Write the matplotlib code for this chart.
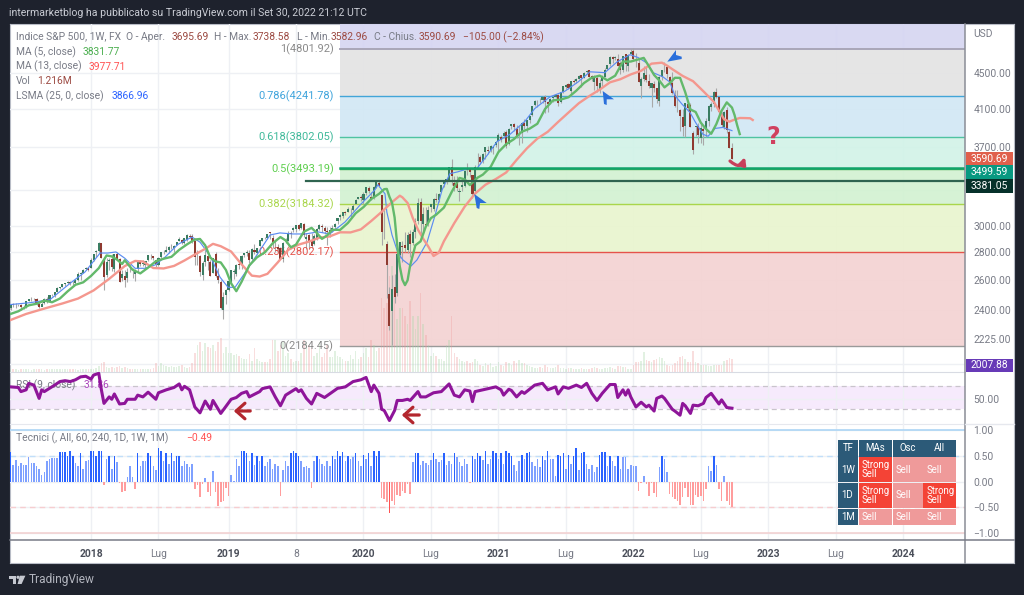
import numpy as np
import matplotlib
matplotlib.use("Agg")
import matplotlib.pyplot as plt
from matplotlib.patches import Rectangle, Polygon, FancyArrowPatch, Circle

FONT = "Roboto"
plt.rcParams["font.family"] = [FONT, "DejaVu Sans"]

# ---- weekly bars, week 0 = first week of 2018 ----
first_week = -31
opens = [2415,2439,2432,2433,2438,2423,2425,2459,2472,2473,2477,2441,2425,2447,2476,2462,2500,2503,2519,2549,2553,2575,2582,2588,2582,2579,2603,2642,2652,2676,2683,
2683,2745,2799,2809,2867,2741,2637,2735,2750,2682,2791,2751,2619,2633,2614,2675,2675,2643,2681,2727,2717,2705,2743,2781,2774,2742,2705,2765,2799,2804,2819,2829,2835,2858,2884,2897,2872,2897,2921,2926,2885,2764,2773,2640,2726,2773,2730,2650,2790,2630,2590,2400,
2498,2535,2585,2657,2644,2713,2712,2780,2798,2798,2750,2820,2796,2848,2888,2910,2906,2952,2908,2860,2841,2830,2751,2885,2889,2951,2971,2979,3014,2986,3016,2898,2930,2891,2866,2909,2981,3002,2983,2967,2945,2965,2996,3039,3078,3081,3117,3117,3144,3135,3183,3226,
3240,3218,3281,3320,3247,3235,3318,3369,3257,2974,2864,2508,2394,2555,2514,2782,2846,2854,2815,2939,2869,2953,3039,3199,3018,3018,3018,3155,3141,3224,3219,3288,3357,3372,3386,3509,3369,3363,3285,3326,3338,3500,3493,3441,3296,3583,3610,3566,3654,3675,3675,3694,3723,
3764,3803,3815,3857,3731,3911,3939,3885,3842,3844,3942,3917,3975,4030,4138,4180,4186,4191,4229,4169,4168,4217,4232,4249,4174,4285,4345,4373,4297,4410,4407,4439,4476,4450,4514,4536,4474,4402,4448,4316,4410,4464,4554,4610,4697,4689,4678,4633,4538,4733,4588,4733,
4778,4663,4632,4356,4431,4483,4412,4333,4374,4327,4188,4456,4537,4575,4462,4385,4255,4130,4081,4013,3920,4153,4134,3838,3909,3920,3792,3880,3883,3972,4113,4155,4280,4226,4034,3909,4083,3849,3695.69]
highs = [2440,2446,2448,2442,2443,2433,2463,2477,2484,2480,2480,2454,2454,2480,2488,2500,2508,2520,2552,2555,2576,2583,2597,2592,2597,2606,2657,2655,2680,2695,2692,
2760,2790,2815,2878,2871,2763,2755,2755,2790,2790,2802,2762,2675,2672,2685,2717,2683,2682,2733,2742,2742,2736,2779,2790,2775,2746,2764,2804,2816,2848,2848,2863,2855,2877,2917,2900,2908,2941,2939,2940,2894,2816,2780,2736,2815,2776,2747,2760,2800,2685,2601,2520,
2539,2597,2675,2681,2716,2737,2778,2794,2818,2814,2830,2860,2836,2893,2910,2917,2943,2955,2930,2892,2864,2841,2876,2910,2964,2964,2995,3014,3018,3027,3028,2945,2943,2947,2943,2985,3021,3022,2999,2993,2993,3008,3027,3066,3097,3120,3127,3154,3150,3183,3226,3247,
3258,3282,3329,3338,3285,3337,3385,3393,3260,3136,2882,2553,2638,2641,2818,2880,2888,2954,2955,2968,2978,3068,3233,3233,3156,3155,3166,3186,3238,3281,3280,3352,3387,3399,3509,3588,3425,3429,3320,3392,3486,3550,3501,3441,3529,3646,3628,3646,3699,3712,3727,3712,3760,
3840,3826,3861,3870,3894,3938,3950,3929,3914,3960,3983,3978,4020,4130,4192,4195,4218,4238,4247,4188,4213,4241,4255,4262,4287,4355,4372,4393,4416,4429,4442,4480,4479,4514,4545,4541,4486,4478,4465,4429,4476,4560,4608,4718,4718,4717,4743,4652,4713,4743,4740,4808,
4819,4749,4690,4454,4595,4590,4489,4385,4416,4329,4465,4546,4637,4593,4471,4513,4308,4308,4090,4097,4161,4177,4165,3866,3915,3946,3950,3902,3999,4140,4167,4301,4325,4227,4062,4076,4120,3870,3738.58]
lows = [2405,2420,2416,2426,2406,2407,2418,2458,2459,2468,2437,2417,2428,2444,2446,2461,2491,2488,2518,2541,2551,2564,2575,2566,2567,2576,2598,2605,2652,2673,2667,
2683,2737,2768,2805,2759,2533,2622,2675,2667,2661,2742,2586,2594,2553,2590,2660,2613,2594,2655,2703,2704,2676,2736,2749,2743,2691,2699,2757,2789,2800,2795,2826,2802,2853,2883,2864,2864,2889,2905,2874,2710,2710,2628,2604,2701,2670,2631,2650,2621,2583,2408,2346,
2443,2525,2580,2612,2631,2682,2678,2765,2772,2723,2746,2785,2785,2848,2882,2898,2900,2900,2836,2801,2805,2750,2728,2873,2887,2912,2953,2952,2970,2975,2914,2822,2825,2835,2856,2891,2969,2957,2939,2855,2918,2952,2975,3015,3050,3065,3090,3114,3070,3124,3183,3226,
3212,3181,3263,3281,3214,3224,3318,3328,2855,2901,2478,2280,2191,2447,2494,2761,2727,2799,2798,2767,2854,2910,3022,2936,2965,2999,3001,3115,3127,3200,3201,3284,3328,3359,3380,3349,3293,3292,3209,3297,3330,3440,3415,3233,3279,3512,3543,3550,3590,3633,3650,3636,3700,
3663,3750,3797,3694,3725,3884,3866,3789,3723,3745,3886,3853,3944,4020,4123,4118,4164,4160,4056,4061,4150,4167,4220,4131,4165,4271,4320,4321,4234,4383,4384,4430,4347,4448,4511,4458,4406,4305,4288,4278,4354,4459,4537,4595,4630,4670,4586,4495,4517,4531,4532,4733,
4662,4582,4395,4222,4414,4401,4327,4115,4279,4157,4130,4424,4517,4450,4381,4262,4121,4062,3859,3810,3807,4073,3900,3637,3810,3738,3742,3721,3802,3910,4079,4116,4218,4030,3907,3884,3838,3693,3582.96]
closes = [2439,2432,2433,2438,2423,2425,2459,2472,2472,2477,2441,2425,2444,2476,2461,2500,2502,2519,2549,2553,2575,2581,2588,2582,2578,2602,2642,2652,2675,2683,2674,
2743,2786,2810,2873,2762,2620,2732,2747,2691,2786,2752,2588,2641,2604,2656,2670,2670,2663,2728,2713,2721,2735,2779,2780,2755,2718,2760,2801,2802,2819,2840,2833,2850,2875,2902,2872,2905,2930,2914,2885,2767,2768,2658,2723,2781,2736,2632,2760,2633,2600,2416,2485,
2531,2596,2670,2664,2707,2707,2776,2793,2803,2743,2822,2800,2834,2893,2907,2905,2940,2945,2881,2860,2826,2752,2873,2887,2950,2942,2990,3014,2977,3025,2932,2918,2889,2847,2926,2978,3007,2992,2961,2952,2970,2986,3022,3066,3093,3120,3110,3141,3145,3168,3221,3240,
3234,3265,3329,3295,3225,3327,3380,3338,2954,2972,2711,2305,2541,2489,2790,2875,2837,2831,2930,2864,2955,3044,3194,3041,3098,3009,3130,3185,3225,3216,3271,3351,3373,3397,3508,3427,3341,3319,3298,3348,3477,3484,3465,3270,3510,3585,3558,3638,3699,3663,3709,3703,3756,
3824,3768,3841,3714,3886,3934,3906,3811,3842,3943,3913,3974,4019,4128,4185,4180,4181,4232,4173,4155,4204,4229,4247,4166,4280,4352,4369,4327,4411,4395,4436,4468,4441,4509,4535,4458,4432,4455,4357,4391,4471,4544,4605,4697,4682,4697,4594,4538,4712,4620,4725,4766,
4677,4662,4397,4431,4500,4418,4349,4385,4329,4204,4463,4543,4546,4488,4392,4272,4132,4123,4024,3901,4158,4109,3901,3675,3912,3825,3899,3863,3962,4130,4145,4280,4228,4058,3924,4067,3873,3693,3590.69]
volumes_tenth_m = [3,3,3,2,3,3,3,3,2,3,3,3,3,2,3,3,3,3,3,3,3,3,3,3,3,3,2,3,3,3,3,
3,3,4,6,8,9,5,4,5,4,5,6,4,5,4,3,3,3,3,3,3,3,3,3,4,8,6,8,7,6,5,6,5,5,6,7,5,4,5,8,18,25,28,20,27,23,22,25,20,28,32,18,
23,18,18,16,17,15,13,12,12,17,10,22,12,10,9,9,9,12,30,30,20,25,28,15,18,12,9,10,10,18,30,28,25,22,15,18,28,14,18,25,14,14,20,15,14,12,10,10,16,12,20,12,
14,18,22,14,30,25,20,22,69,60,65,90,99,75,50,60,60,52,45,66,52,40,52,74,45,35,25,15,18,15,12,12,10,25,30,52,18,14,12,10,9,10,8,9,12,10,7,6,8,7,8,5,6,
9,7,6,9,8,7,10,8,11,8,8,7,6,5,4,4,5,4,7,5,4,4,5,7,4,4,3,4,4,3,3,3,4,3,3,3,4,5,4,3,3,4,4,5,4,3,6,6,5,5,3,3,
7,9,9,10,19,11,10,9,11,12,14,13,10,7,6,7,8,10,14,15,12,9,9,20,9,8,7,7,7,6,6,7,7,7,7,10,11,13,12.16]
ratings = [.58,.33,.42,.30,.36,.32,.33,.49,.36,.37,.30,.25,.14,.18,.40,.45,.47,.47,.47,.58,.58,.58,.50,.60,.50,.36,.30,.55,.25,.40,.42,
.60,.60,.50,.60,.60,-.07,.45,.50,.25,.50,.38,-.02,-.20,-.18,.10,.30,.10,-.14,.55,.30,.40,.40,.55,.50,.30,.22,.65,.60,.40,.55,.35,.55,.40,.50,.50,.30,.40,.35,.28,.34,-.15,-.07,-.30,-.05,.07,-.20,-.28,.20,-.20,-.48,-.40,-.38,-.13,-.28,.14,.02,
.45,.30,.60,.60,.55,.40,.55,.32,.50,.40,.50,.30,.38,.45,.25,.35,.30,-.27,.22,.40,.30,.55,.60,.55,.50,.40,.28,.30,.27,-.12,.40,.50,.45,.35,.30,.40,.30,.50,.45,.60,.50,.58,.40,.50,.45,.48,.55,.40,.30,.52,.45,.55,.30,.60,.50,.60,
-.32,-.33,-.40,-.61,-.38,-.46,-.26,-.28,-.18,-.22,-.05,-.23,
.38,.55,.55,.32,.40,.36,.32,.42,.55,.45,.38,.42,.55,.32,.40,.34,.55,.48,.38,.30,.45,.35,-.02,.50,.45,.55,.50,.42,.60,.35,.45,.60,.55,.45,.55,.35,.60,.55,.50,
.32,.20,.40,.52,.45,.55,.58,.38,.30,.45,.28,.50,.42,.60,.45,.45,.12,.52,.50,.55,.25,.52,.35,.50,.65,.22,.55,.58,.35,.25,.33,.18,.28,.52,.58,.58,.30,.50,.40,.30,.50,.25,.48,.48,.25,.32,.30,.30,
-.18,-.03,.11,-.05,-.27,-.02,-.22,-.30,.28,.50,.45,.18,-.23,-.30,-.33,-.38,-.45,-.30,-.13,-.30,-.45,-.45,-.25,-.30,-.28,-.37,-.14,.30,.20,.50,.33,-.15,-.38,.12,-.37,-.45,-.49]

ma5_weeks = [-31,-28,-24,-21,-18,-15,-12,-9,-6,-3,0,3,6,8,10,12,13,16,19,22,25,28,31,34,37,40,42,44,46,48,50,52,54,56,58,61,64,67,70,73,75,77,79,82,85,87,89,91,93,96,99,102,105,108,111,113,114,115,116,117,118,119,120,121,122,123,125,127,129,131,133,136,139,142,144,146,149,151,154,157,160,163,166,169,172,175,178,181,184,187,190,193,196,199,202,205,208,211,213,215,217,219,221,223,225,227,229,231,233,235,237,239,241,243,245,247,248,249,250]
ma5_vals = [2378,2395,2433,2443,2464,2453,2477,2525,2569,2586,2630,2685,2777,2770,2747,2715,2742,2674,2648,2689,2735,2753,2767,2819,2860,2897,2901,2853,2760,2733,2726,2672,2579,2526,2589,2705,2764,2800,2868,2916,2890,2838,2858,2957,2988,2948,2902,2929,2973,2972,3027,3106,3157,3226,3270,3311,3313,3245,3194,3071,2856,2697,2604,2567,2600,2706,2853,2883,2997,3066,3094,3153,3287,3411,3398,3347,3414,3441,3512,3653,3731,3781,3856,3887,3938,4097,4190,4199,4225,4299,4388,4450,4475,4419,4474,4645,4645,4672,4690,4587,4482,4417,4337,4385,4449,4448,4281,4090,4063,3949,3884,3835,3936,4076,4168,4111,4030,3923,3831.77]
ma13_weeks = [-31,-25,-18,-11,-5,1,7,13,17,20,24,28,32,36,40,44,47,50,54,58,62,65,68,72,76,80,84,88,92,96,100,104,108,112,116,119,120,122,124,126,128,130,132,134,136,140,144,148,152,156,160,164,168,172,176,180,184,188,192,196,200,204,208,212,216,220,222,224,228,232,236,240,244,246,248,250,252,254,255]
ma13_vals = [2340,2378,2412,2445,2477,2531,2610,2700,2737,2733,2686,2683,2701,2740,2784,2826,2864,2846,2806,2713,2632,2626,2645,2727,2818,2858,2881,2911,2921,2953,2952,2976,3043,3117,3199,3254,3240,3192,3067,2974,2903,2843,2773,2797,2884,3026,3161,3272,3350,3401,3461,3578,3690,3786,3855,3957,4057,4159,4238,4311,4396,4432,4489,4532,4619,4631,4595,4552,4471,4409,4292,4174,3984,3960,3982,3999,3998,3996,3977.71]
lsma_weeks = [-31,-23.5,-15.8,-8,-2.3,3.5,6.5,9.6,13,17,20.8,24.7,28.5,33.5,38.9,42,45.9,49.7,52.8,55.5,59.3,64.4,69,72.8,77.8,82.5,87.5,92,97.9,103.7,109.4,110.6,113.3,114,116,118.3,120.2,123.3,125.6,129.5,132.6,135.3,138.3,141.4,145.3,148.7,152.6,156.5,161.5,167.2,171,176.9,182.7,187.7,192.3,198,202.7,207.7,210.8,214.3,216.6,220.4,223,225,227.7,230.8,232.8,235.8,237.8,240.5,243.5,247]
lsma_vals = [2438,2450,2470,2580,2658,2795,2795,2803,2757,2684,2684,2708,2764,2860,2916,2877,2774,2622,2552,2552,2651,2795,2932,2948,2940,2940,2956,2940,3035,3175,3305,3350,3270,3116,2932,2795,2744,2700,2744,2877,3090,3305,3450,3467,3497,3497,3620,3757,3830,3963,4100,4230,4295,4400,4520,4510,4640,4730,4695,4625,4510,4460,4400,4245,4150,4060,3960,3830,3810,3890,3900,3866.96]
rsi_weeks = [-31,-28,-27,-25,-24,-22,-20,-19,-18,-16,-14,-12,-10,-8,-6,-4,-2,0,1,3,4,5,7,8,9,11,13,14,17,18,20,22,25,26,29,32,34,35,36,38,40,42,44,46,47,50,54,56,58,60,61,65,66,69,71,73,75,79,80,81,83,85,87,90,95,98,101,104,106,108,109,111,112,113,115,117,118,120,122,123,126,127,129,132,135,138,140,142,144,146,147,148,151,156,158,159,161,162,164,166,167,171,174,176,179,180,182,184,187,189,191,193,195,197,200,202,203,205,206,207,208,210,212,214,215,217,218,220,221,224,225,227,228,229,231,232,234,236,237,239,242,243,245,247]
rsi_vals = [68,67,60,63,74,71,48.5,63,60,65.5,71,77,78.5,77,80,85,86,81,88,91,63,40,51,47,56,39,40,47,47,54,51,59,47,58,63,67,73,63,69,63,34,24,44,30,45,23,47,50,57,60,51,60,65,68,51,36,54,65,60,63,48.5,39,57,50,65.5,68,77,80,84,60,71,57,30,28,11,28,45,45,47,45,60,51,51,58,60,73,54,51,63,61,43,60,63,68,63,54,64,62,51,60,57,71,74,63,68,56,68,65.5,71,67,74,57,45,57,72,72,50,63,54,63,51,34,42,34,37,27,48.5,52.5,48.5,30,27,20,40,36,23,37,36,40,50,57,39,46,33,31.86]

fib_levels = [4801.92, 4241.78, 3802.05, 3493.19, 3184.32, 2802.17, 2184.45]
fib_ratios = ["1", "0.786", "0.618", "0.5", "0.382", "0.236", "0"]
fib_start_week = 95.8
line_teal_price = 3499.59
line_dark_price = 3381.05
line_dark_start_week = 82.9
price_ticks = [4500, 4100, 3700, 3300, 3000, 2800, 2600, 2400, 2225]
time_ticks = [0, 26, 53, 79, 105, 131, 157, 183, 209, 235, 261, 287, 313]
time_labels = ["2018", "Lug", "2019", "8", "2020", "Lug", "2021", "Lug", "2022", "Lug", "2023", "Lug", "2024"]
rating_ticks = [1.0, 0.5, 0.0, -0.5, -1.0]

W, H = 1024, 595
fig = plt.figure(figsize=(W/100, H/100), dpi=100, facecolor="#1e222d")

def rect_axes(x0, y0, x1, y1, **kw):
    return fig.add_axes([x0/W, 1-y1/H, (x1-x0)/W, (y1-y0)/H], **kw)

# white panel
panel = rect_axes(9.5, 24, 1014, 563, zorder=-1, facecolor="white")
panel.set_xticks([]); panel.set_yticks([])
for s in panel.spines.values():
    s.set_color("#b8bcc6"); s.set_linewidth(0.8)

weeks = np.arange(first_week, first_week+len(closes))
XMIN, XMAX = (10-91)/2.595, (965-91)/2.595
LABEL = "#787b86"
GRID = "#eef0f4"
TICK_FS = 7.4
TXT_FS = 7.35

# price scale: 377 px per unit of log price, anchored at fib level 1 (y=49)
PLO = fib_levels[0]*np.exp(-(372-49)/377)
PHI = fib_levels[0]*np.exp((49-24)/377)

az = rect_axes(10, 24, 965, 372, zorder=0, facecolor="none")
av = rect_axes(10, 24, 965, 372, zorder=1, facecolor="none")
ax = rect_axes(10, 24, 965, 372, zorder=2, facecolor="none")
for a in (az, ax):
    a.set_yscale("log"); a.set_ylim(PLO, PHI)
for a in (az, av, ax):
    a.set_xlim(XMIN, XMAX)
    for s in a.spines.values():
        s.set_visible(False)
    a.minorticks_off()
    a.tick_params(length=0, which="both")

# grid + fib zones
az.set_yticks(price_ticks + [2080]); az.set_yticklabels([]); az.set_xticks(time_ticks); az.set_xticklabels([])
az.grid(True, color=GRID, lw=1)
az.set_axisbelow(True)
zone_colors = ["#d6d6f2", "#e4e4e4", "#d2e8f5", "#d3f3e8", "#d3f2d2", "#e9f5cf", "#f4d3d3"]
edges = [PHI] + fib_levels
for c, hi, lo in zip(zone_colors, edges[:-1], edges[1:]):
    az.fill_between([fib_start_week, XMAX], lo, hi, color=c, lw=0, alpha=0.93, zorder=1)
line_cols = ["#a9a6b8", "#42a5d8", "#4fc3a1", "#4caf50", "#a9d64b", "#e5534b", "#9a9a9a"]
text_cols = ["#8a8a8a", "#3fa4dc", "#3fb99a", "#5fcf4f", "#a9d64b", "#e5534b", "#8a8a8a"]
for lev, r, lc, tc in zip(fib_levels, fib_ratios, line_cols, text_cols):
    az.plot([fib_start_week, XMAX], [lev, lev], color=lc, lw=1.0 if r != "1" else 1.4, zorder=2)
    ax.text(fib_start_week-2.3, lev, f"{r}({lev:.2f})", color=tc, ha="right", va="center", fontsize=7.9)

# volume
av.set_xticks([]); av.set_yticks([])
av.set_ylim(0, 348*12.16/13)
vcols = ["#a5d6a7" if c >= o else "#ef9a9a" for o, c in zip(opens, closes)]
av.bar(weeks, volumes_tenth_m, width=0.6, color=vcols, alpha=0.32, lw=0)

# candles
ax.set_yticks(price_ticks)
ax.set_yticklabels([f"{p:.2f}" if p != 3300 else "" for p in price_ticks], fontsize=TICK_FS, color=LABEL)
ax.yaxis.tick_right()
ax.tick_params(axis="y", pad=6)
ax.set_xticks([])
ucol, dcol = "#3a7d62", "#8f3a30"
ax.vlines(weeks, lows, highs, color="#a8a8a8", lw=0.8, zorder=2)
o, c = np.array(opens, float), np.array(closes, float)
ax.bar(weeks, np.abs(c-o), bottom=np.minimum(o, c), width=0.8,
       color=[ucol if a >= b else dcol for a, b in zip(c, o)], lw=0, zorder=3)
ax.plot(lsma_weeks, lsma_vals, color="#5b8cf2", lw=0.85, zorder=4)
ax.plot(ma13_weeks, ma13_vals, color="#f4978e", lw=1.7, zorder=5)
ax.plot(ma5_weeks, ma5_vals, color="#63b96b", lw=1.7, zorder=6)
ax.plot([fib_start_week, XMAX], [line_teal_price]*2, color="#12a36a", lw=1.8, zorder=7)
ax.plot([line_dark_start_week, XMAX], [line_dark_price]*2, color="#2f6450", lw=1.6, zorder=7)

# RSI pane: 30 at y=409.3, 70 at y=385.7
pxu = (409.3-385.7)/40
ar = rect_axes(10, 372, 965, 424, zorder=2, facecolor="none")
ar.set_xlim(XMIN, XMAX)
ar.set_ylim(30-(424-409.3)/pxu, 70+(385.7-372)/pxu)
for s in ar.spines.values():
    s.set_visible(False)
ar.spines["top"].set_visible(True); ar.spines["top"].set_color("#d8dbe3")
ar.spines["bottom"].set_visible(True); ar.spines["bottom"].set_color("#e6e8ee")
ar.set_xticks(time_ticks); ar.set_xticklabels([])
rsi_mid = 30+(409.3-399.3)/pxu
ar.set_yticks([rsi_mid]); ar.set_yticklabels(["50.00"], fontsize=TICK_FS, color=LABEL)
ar.yaxis.tick_right()
ar.tick_params(length=0, pad=6)
ar.grid(True, color=GRID, lw=1)
ar.set_axisbelow(True)
ar.axhspan(30, 70, color="#f0dcfb", alpha=0.6, lw=0, zorder=0.5)
for v in (30, 70):
    ar.axhline(v, color="#c9c4cc", lw=0.9, ls=(0, (4, 3)), zorder=1)
ar.text(0.0065, 70-(385-385.7)/pxu, "RSI (9, close)", transform=ar.get_yaxis_transform(), color=LABEL, fontsize=TXT_FS, va="center", zorder=1.5)
ar.text(74/955, 70-(385-385.7)/pxu, "31.86", transform=ar.get_yaxis_transform(), color="#ab47bc", fontsize=TXT_FS, va="center", zorder=1.5)
ar.plot(rsi_weeks, rsi_vals, color="#8e1599", lw=2.2, zorder=3)

# technical rating pane: 0 at y=481.7, 51.4 px per unit
at = rect_axes(10, 424, 965, 540, zorder=2, facecolor="none")
at.set_xlim(XMIN, XMAX)
at.set_ylim(-(540-481.7)/51.4, (481.7-424)/51.4)
for s in at.spines.values():
    s.set_visible(False)
at.set_yticks(rating_ticks)
at.set_yticklabels(["1.00", "0.50", "0.00", "\u22120.50", "\u22121.00"], fontsize=TICK_FS, color=LABEL)
at.yaxis.tick_right()
at.tick_params(length=0, axis="y", pad=6)
at.set_xticks(time_ticks)
at.set_xticklabels(time_labels, fontsize=TICK_FS)
for t, s in zip(at.get_xticklabels(), time_labels):
    is_year = len(s) == 4
    t.set_fontweight("bold" if is_year else "normal")
    t.set_color("#4a4e59" if is_year else LABEL)
at.tick_params(length=0, axis="x", pad=6.5)
at.grid(True, color=GRID, lw=1)
at.set_axisbelow(True)
at.axhline(1, color="#a6d2f5", lw=1.1, zorder=1)
at.axhline(-1, color="#f3cfcf", lw=1.1, zorder=1)
at.axhline(0.5, color="#c2dffa", lw=1.0, ls=(0, (4, 3)), zorder=1)
at.axhline(-0.5, color="#f6cdd0", lw=1.0, ls=(0, (4, 3)), zorder=1)
rcols = []
for r in ratings:
    if r >= 0:
        rcols.append("#2962ff" if r >= 0.5 else "#7fa1ff")
    else:
        rcols.append("#ff5252" if r <= -0.5 else "#ff9d9d")
at.bar(weeks, ratings, width=0.6, color=rcols, lw=0, zorder=3)

# overlay in pixels: header, legends, tags, table, drawings
ov = fig.add_axes([0, 0, 1, 1], zorder=5, facecolor="none")
ov.set_xlim(0, W); ov.set_ylim(H, 0); ov.axis("off")

def T(x, y, s, col=LABEL, fs=TXT_FS, **kw):
    kw.setdefault("va", "center"); kw.setdefault("ha", "left")
    ov.text(x, y, s, color=col, fontsize=fs, **kw)

T(9, 13, "intermarketblog ha pubblicato su TradingView.com il Set 30, 2022 21:12 UTC", "#c9ccd4", 7.55)
maroon = "#9c4a42"
T(16, 37, "Indice S&P 500, 1W, FX  O - Aper.")
T(172, 37, "3695.69", maroon)
T(214, 37, "H - Max.")
T(253, 37, "3738.58", maroon)
T(297, 37, "L - Min.")
T(331, 37, "3582.96", maroon)
T(374, 37, "C - Chius.")
T(419, 37, "3590.69", maroon)
T(463, 37, "\u2212105.00 (\u22122.84%)", maroon)
T(16, 52, "MA (5, close)"); T(83, 52, "3831.77", "#4caf50")
T(16, 66.5, "MA (13, close)"); T(89, 66.5, "3977.71", "#ff5252")
T(16, 81, "Vol"); T(37, 81, "1.216M", maroon)
T(16, 96, "LSMA (25, 0, close)"); T(112, 96, "3866.96", "#2962ff")
T(16, 438, "Tecnici (, All, 60, 240, 1D, 1W, 1M)"); T(186, 438, "\u22120.49", "#ff5252")
T(973, 34, "USD", LABEL, TICK_FS)

ov.plot([965, 965], [24, 563], color="#8a8d96", lw=1.1)
ov.plot([10, 1013.5], [540, 540], color="#787b86", lw=1.1)
ov.plot([965, 1013.5], [424, 424], color="#e6e8ee", lw=1)

def tag(y, s, col, h=14):
    ov.add_patch(Rectangle((965.5, y-h/2), 47.5, h, fc=col, ec="none"))
    T(989, y, s, "white", TICK_FS, ha="center")
tag(159, "3590.69", "#e0604c")
tag(172, "3499.59", "#089981")
tag(186, "3381.05", "#06312a")
tag(365, "2007.88", "#673ab7", 13)

# drawings
blue = "#2a6fdb"
for pts in [[(602.7, 91), (614, 99.3), (606.7, 99.3), (606.7, 105), (604, 104)],
            [(474.3, 194), (486.7, 203), (480, 203), (479.3, 209), (476.7, 208)],
            [(667.3, 61.7), (676, 50), (676, 55), (681.7, 56.7), (681.7, 59)]]:
    ov.add_patch(Polygon(pts, closed=True, fc=blue, ec="none"))
T(773, 137, "?", "#d0405f", 17, ha="center", fontweight="bold", family="DejaVu Sans")
ov.add_patch(FancyArrowPatch((730, 161), (745, 157), connectionstyle="arc3,rad=0.75",
                             arrowstyle="-|>", mutation_scale=10, lw=2.3, color="#c73e5a",
                             shrinkA=0, shrinkB=0))
for a, b, y in [(253, 231, 411), (422, 399, 415)]:
    ov.add_patch(FancyArrowPatch((a, y), (b, y), arrowstyle="->,head_length=0.45,head_width=0.4",
                                 mutation_scale=14, lw=2.3, color="#b3262e"))

# signal table
hdr, strong, sell = "#2c5a78", "#f44336", "#ef9a9a"
cols = [(838, 858), (859, 892), (893, 922.7), (923.4, 956)]
rows = [(440, 456.7), (457.3, 482), (482.7, 508), (508.7, 525.3)]
cells = [["TF", "MAs", "Osc", "All"],
         ["1W", "Strong\nSell", "Sell", "Sell"],
         ["1D", "Strong\nSell", "Sell", "Strong\nSell"],
         ["1M", "Sell", "Sell", "Sell"]]
for i, (y0, y1) in enumerate(rows):
    for j, (x0, x1) in enumerate(cols):
        s = cells[i][j]
        fc = hdr if (i == 0 or j == 0) else (strong if "Strong" in s else sell)
        ov.add_patch(Rectangle((x0, y0), x1-x0, y1-y0, fc=fc, ec="none"))
        if i == 0:
            T((x0+x1)/2, (y0+y1)/2, s, "white", 6.9, ha="center")
        else:
            T(x0+3, (y0+y1)/2, s, "white", 6.9, linespacing=0.95)

# footer logo
logo = "#c5c8d0"
ov.add_patch(Polygon([(9.3, 575.7), (16.3, 575.7), (16.3, 584), (13, 584), (13, 578.7), (9.3, 578.7)], fc=logo, ec="none"))
ov.add_patch(Circle((18, 577.3), 1.6, fc=logo, ec="none"))
ov.add_patch(Polygon([(19.8, 575.7), (25.4, 575.7), (21.6, 584), (17.6, 584)], fc=logo, ec="none"))
T(29, 580, "TradingView", "#b2b5be", 8.6)

fig.savefig("out.png", dpi=100, facecolor=fig.get_facecolor())
